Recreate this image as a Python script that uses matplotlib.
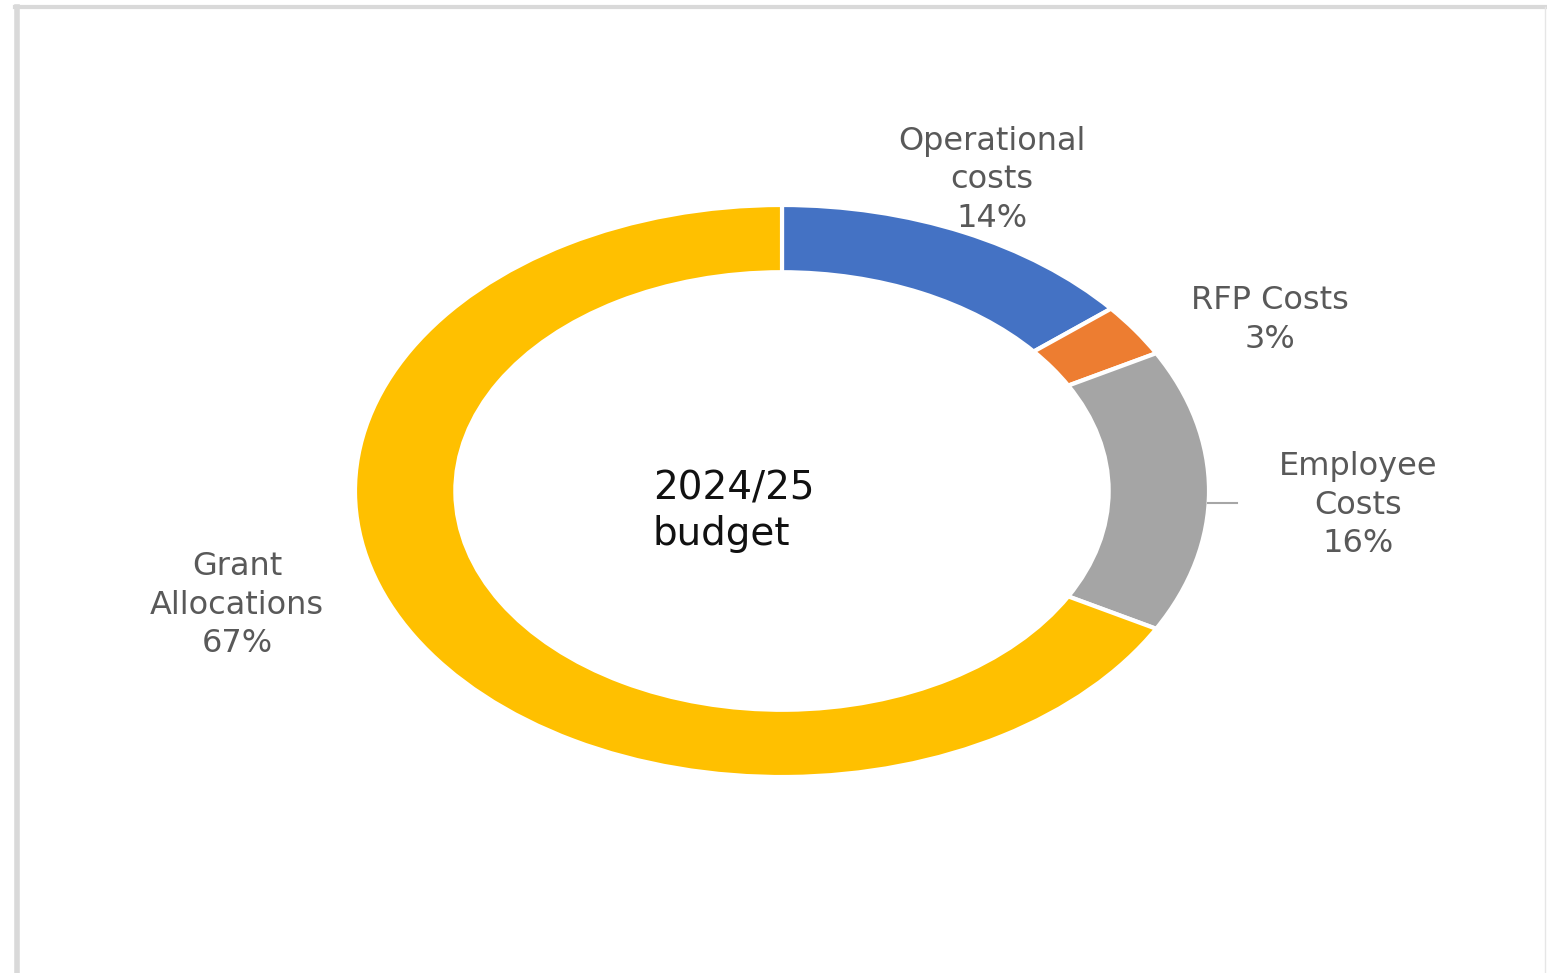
import matplotlib.pyplot as plt
from matplotlib.lines import Line2D

# budget shares (%)
labels = ['Operational\ncosts', 'RFP Costs', 'Employee\nCosts', 'Grant\nAllocations']
shares = [14, 3, 16, 67]
colors = ['#4472C4', '#ED7D31', '#A5A5A5', '#FFC000']

W, H = 1547, 973
fig = plt.figure(figsize=(W / 100, H / 100), dpi=100)

# donut center and radii in pixels (chart is stretched horizontally)
cx, cy, rx, ry = 782, 491, 427, 286
ax = fig.add_axes([(cx - rx) / W, (H - cy - ry) / H, 2 * rx / W, 2 * ry / H])

wedges, _ = ax.pie(shares, colors=colors, startangle=90, counterclock=False,
                   radius=1, wedgeprops=dict(width=0.235, edgecolor='white', linewidth=3))
for w in wedges:
    w.set_clip_on(False)
ax.set_aspect('auto')
ax.set_xlim(-1, 1)
ax.set_ylim(-1, 1)
ax.axis('off')

def d(px, py):
    return (px - cx) / rx, (cy - py) / ry

# label centres in pixels
label_pos = [(992, 180), (1270, 320), (1358, 505), (237, 605)]
for lab, val, (px, py) in zip(labels, shares, label_pos):
    x, y = d(px, py)
    ax.text(x, y, f'{lab}\n{val}%', ha='center', va='center', fontsize=23,
            color='#595959', linespacing=1.3, clip_on=False)

# leader line for Employee Costs
x0, y0 = d(1208, 503)
x1, y1 = d(1237, 503)
ax.plot([x0, x1], [y0, y1], color='#A6A6A6', lw=1.5, clip_on=False)

# centre title
tx, ty = d(653, 511)
ax.text(tx, ty, '2024/25\nbudget', ha='left', va='center', fontsize=28,
        color='#111111', linespacing=1.25)

# light grey frame
fig.add_artist(Line2D([17 / W, 17 / W], [0, 1 - 7 / H], color='#D9D9D9', lw=4))
fig.add_artist(Line2D([15 / W, 1], [1 - 7 / H, 1 - 7 / H], color='#D9D9D9', lw=3))
fig.add_artist(Line2D([1545 / W, 1545 / W], [0, 1 - 7 / H], color='#E6E6E6', lw=1))

plt.savefig('out.png', dpi=100)
